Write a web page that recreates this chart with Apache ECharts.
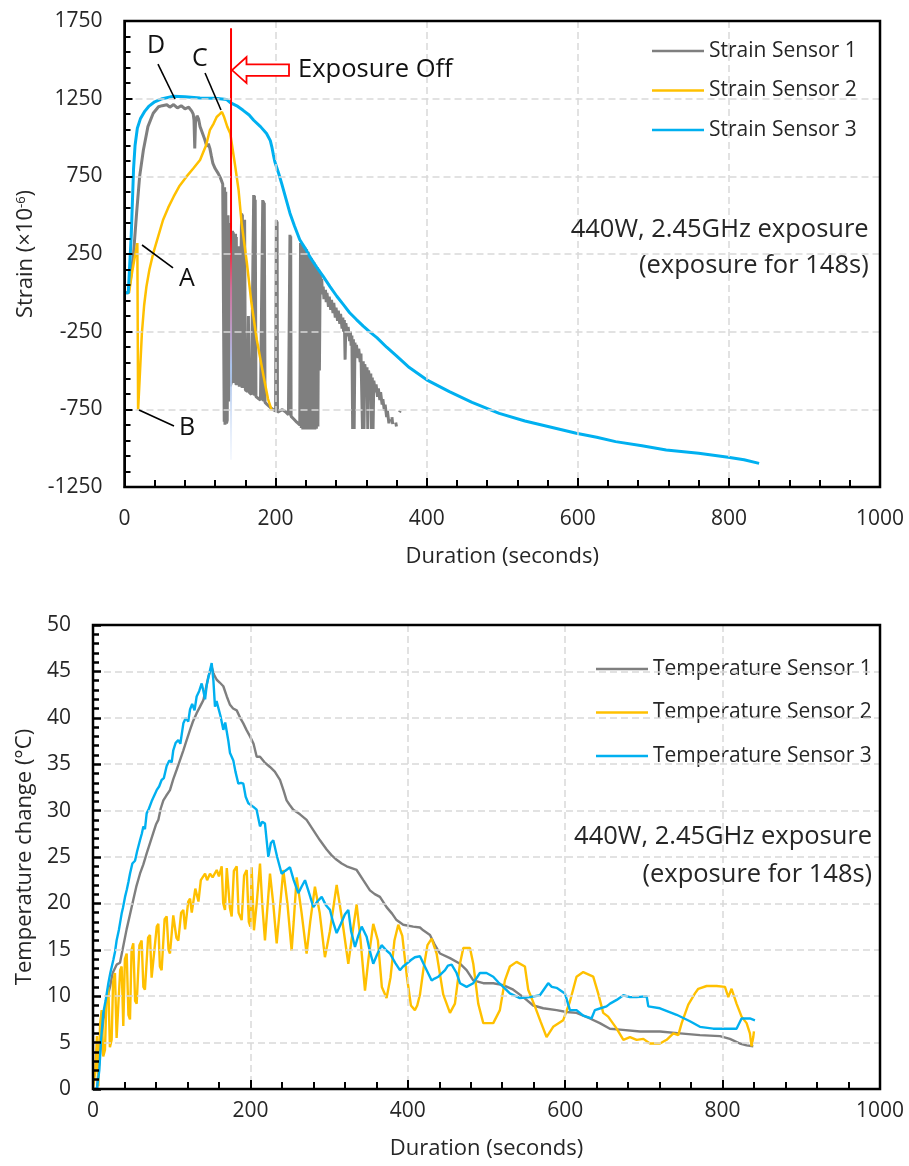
<!DOCTYPE html>
<html>
<head>
<meta charset="utf-8">
<script src="https://cdn.jsdelivr.net/npm/echarts@6/dist/echarts.min.js"></script>
<style>html,body{margin:0;padding:0;background:#fff}#c{width:909px;height:1166px}</style>
</head>
<body>
<div id="c"></div>
<script>
// ---------------- DATA ----------------
const strainSeriesNames = ['Strain Sensor 1', 'Strain Sensor 2', 'Strain Sensor 3'];
const tempSeriesNames = ['Temperature Sensor 1', 'Temperature Sensor 2', 'Temperature Sensor 3'];

const strainSensor1 = [
  [0,0],[5,0],[8,90],[12,254],[16,512],[20,748],[25,920],[31,1070],[38,1156],[45,1198],[50,1205],[56,1211],[60,1195],[65,1212],[70,1190],[75,1205],[80,1185],[85,1195],[89,1170],[91,1150],[92,1110],[93,930],[94,1100],[96,1140],[98,1120],[100,1070],[103,1030],[106,990],[109,941],[111,960],[113,930],[115,880],[117,833],[120,800],[124,769],[127,740],[130,700],
  [131,690],[132,-830],[132.5,680],[133,-850],[134,650],[135,-840],[136,-820],[137,500],[138,-700],[139,450],[140,-600],[142,-570],[143,400],[143.6,-575],[144,390],[144.5,-580],[146,-590],[147,380],[147.6,-592],[148,360],[148.5,-595],[150,-600],[151,300],[152,-605],[154,-610],[155,512],[155.6,-611],[156,505],[156.5,-612],[158,-618],[159,470],[160,-625],[163,-635],[164,-150],[165,-640],[167,-648],[168,-655],[170,-660],[171,630],[171.6,-660],[172,625],[172.5,-662],[173,600],[174,-668],[177,-680],[180,-690],[182,-695],[183,598],[183.6,-697],[184,590],[184.5,-700],[185,580],[186,-705],[189,-720],[193,-738],[197,-752],[200,-760],[201,469],[201.6,-764],[202,460],[202.5,-768],[205,-762],[209,-752],[213,-765],[217,-785],[219,374],[219.6,-790],[220,365],[220.5,-795],[224,-812],[228,-833],[232,-850],
  [233,320],[234,-870],[235,310],[236,-880],[237,300],[238,-880],[239,290],[240,-880],[241,280],[242,-880],[243,265],[244,-880],[245,240],[246,-880],[247,225],[248,-880],[249,210],[250,-880],[251,195],[252,-880],[253,180],[254,-875],[255,165],[256,-860],[257,150],[258,-500],
  [259,130],[260,40],[261,90],[262,-10],[263,40],[264,-40],[266,20],[267,-60],[268,0],[270,-90],[271,-25],[273,-110],[274,-45],[276,-130],[277,-65],[279,-160],[280,-95],[282,-180],[283,-115],[285,-200],[286,-135],[288,-230],[289,-160],[290,-250],[291,-175],[292,-430],[293,-195],[295,-280],[296,-220],[298,-310],[299,-250],[300,-340],[301,-275],[302,-876],[303,-299],[304,-876],[305,-320],[306,-400],[307,-335],[309,-420],[310,-360],[312,-445],[313,-390],[315,-876],[316,-440],[317,-876],[318,-460],[320,-540],[321,-480],[322,-876],[323,-500],[325,-580],[326,-520],[327,-876],[328,-545],[329,-876],[330,-565],[332,-640],[333,-590],[335,-670],[336,-615],[338,-690],[339,-640],[341,-720],[342,-684],[344,-760],[345,-720],[347,-800],[348,-760],[350,-840],[351,-812],
  [352,'-'],[354,-800],[355,-845],[356,'-'],[359,-835],[360,-860],[362,'-'],[364,-770],[365,-760]
];
const strainSensor2 = [
  [0,0],[6,0],[10,130],[14,240],[17,320],[18,-755],[20,-560],[23,-261],[26,-80],[29,39],[33,150],[38,254],[45,370],[51,469],[58,550],[65,619],[73,690],[82,748],[91,800],[100,855],[108,950],[113,1047],[118,1090],[122,1132],[126,1150],[129,1164],[132,1130],[136,1070],[140,1026],[143,930],[146,833],[151,662],[155,449],[162,192],[168,-64],[175,-299],[184,-535],[190,-684],[195,-759]
];
const strainSensor3 = [
  [0,0],[5,0],[9,380],[12,800],[14,950],[17,1060],[21,1120],[27,1170],[32,1200],[40,1230],[50,1250],[65,1265],[80,1262],[100,1255],[120,1252],[135,1245],[140,1225],[150,1200],[157,1175],[165,1145],[171,1111],[180,1070],[188,1026],[193,980],[195,940],[197,890],[199,844],[204,770],[208,705],[214,600],[219,513],[225,430],[232,342],[240,280],[245,235],[255,160],[263,106],[272,40],[281,-22],[290,-78],[298,-128],[307,-172],[316,-214],[325,-253],[334,-288],[347,-350],[360,-406],[377,-481],[400,-560],[430,-636],[460,-705],[496,-776],[530,-825],[562,-862],[598,-904],[625,-930],[650,-958],[685,-985],[717,-1012],[760,-1033],[799,-1059],[820,-1075],[840,-1098]
];
const exposureOffLine = [[141,1703],[141,-1075]];

const tempSensor1 = [
  [0,0],[5,0],[8,3],[13.1,7.4],[18,9.8],[21.6,11],[25,12.5],[30,13.4],[34.3,13.6],[38,15.2],[42.7,17.2],[47,18.8],[51.2,20.4],[55,21.8],[59.7,23.2],[64,24.2],[68.2,25.4],[72,26.4],[76.6,27.6],[80,28.5],[83,29.0],[86,30.2],[89.4,31.1],[93,31.6],[97.8,32.2],[102,33.4],[106.3,34.4],[110,35.3],[114.8,36.5],[119,37.6],[123.3,38.7],[127,39.6],[131.7,40.5],[136,41.2],[140.2,41.9],[143,43.0],[146.5,44.4],[150.8,45.5],[154,44.6],[157.2,44.1],[161,43.8],[165.6,43.4],[170,42.3],[174.1,41.4],[178,41.0],[182.6,40.8],[187,40.0],[191,39.4],[195,38.7],[199.5,38.0],[204,37.2],[208,35.8],[212.2,35.8],[218,35.2],[224.9,34.7],[231,34.2],[237.6,33.3],[242,32.2],[246,31.1],[250,30.6],[254.5,30.1],[263,29.6],[271.4,29.0],[279.9,27.9],[288.4,26.8],[296.9,25.8],[303,25.2],[309.6,24.7],[316,24.3],[322.3,24.0],[335,23.6],[343.4,22.5],[351.9,21.4],[358,21.0],[364.6,20.7],[373,19.6],[380,18.9],[385.7,18.2],[394.2,17.7],[406.9,17.5],[415.5,17.4],[419.6,17.1],[428.2,16.6],[434,15.6],[440.9,14.6],[453.6,14.1],[466.3,13.5],[474.7,12.8],[483.2,11.7],[495.9,11.4],[508.6,11.4],[521.3,11.2],[534,10.7],[546.7,9.9],[559.4,9.0],[572.1,8.7],[589,8.5],[601.7,8.3],[614.4,8.2],[631.4,7.6],[644,7.1],[656.8,6.5],[669.7,6.4],[695.1,6.2],[720.4,6.2],[745.8,6.0],[771.2,5.8],[796.6,5.7],[809.3,5.4],[822,4.9],[830.5,4.7],[839,4.6]
];
const tempSensor2 = [
  [0,0],[3,2],[5,5.7],[6.8,0.3],[9,7],[11,8.5],[13,3.5],[15.2,4.2],[17,9.5],[19.5,11],[21.5,4.5],[23.7,5.3],[25.5,11.5],[27.9,12.5],[30,5.5],[32.2,5.6],[34.5,12.8],[36.4,13.2],[38.5,6.8],[40.5,14],[42.8,14.6],[45,8],[47,7.5],[49,15],[51.2,15.7],[53.5,9.5],[55.5,9.2],[59,15.5],[61.8,16.0],[64,11],[66,10.7],[70,16.3],[72.4,16.6],[74.5,12],[76.6,11.8],[81,17.5],[83,17.8],[85,13.2],[87.2,12.8],[91,18.3],[93.6,18.6],[96,15],[97.8,14.6],[102,18.7],[104.2,18.9],[106,16.3],[108.4,16.0],[112,19],[114.8,19.3],[117,17.2],[119,17.1],[121,20.2],[123.3,20.5],[125.5,19],[127.5,18.8],[130,21.6],[131.7,21.8],[134,20.2],[137,22.5],[142.4,23.2],[145,22.5],[148.7,23.2],[152,22.8],[157.2,23.6],[160,22.9],[163.5,24.0],[165.5,20],[167.7,19.3],[170,23.8],[172,23.6],[174,19.5],[176.2,18.6],[179,23.5],[182.6,24.0],[185,19],[188.9,18.2],[192,23],[195.3,23.6],[198,18],[200,17.5],[201.6,23.9],[204.5,17.1],[208,20],[212.2,24.3],[215,20],[218.5,16.0],[222,20],[224.9,23.2],[229,20],[233.4,15.7],[237,19],[241.8,23.6],[247,20],[252.4,14.9],[255,18],[258.8,22.8],[265,19],[271.4,14.6],[276,18],[282,21.8],[288,19],[294.7,14.2],[301,17],[309.6,22.0],[317,18],[324.4,13.5],[330,17],[335,19.9],[340,16],[345.6,10.6],[350,14],[356.1,17.8],[362,16],[367,11],[373,9.8],[378,12],[383,16],[387.9,17.7],[393,16.5],[399,12],[404,9],[409,8.5],[412,9],[415.5,10.2],[420,13],[425,15.5],[430.3,16.2],[436.6,14.6],[445,10.2],[453.6,8.2],[459.9,9.2],[466.3,13.5],[470.5,15.2],[479,15.2],[483.2,13.5],[489.5,9.2],[495.9,7.1],[508.6,7.1],[517,8.5],[523.4,11.7],[529.7,13.2],[538.2,13.7],[548.8,13.2],[553,10.7],[561.5,8.9],[569,7.2],[576.3,5.6],[584.7,6.7],[597.4,7.4],[605.9,9.4],[614.4,12.1],[622.9,12.6],[635.6,12.1],[641.9,10.3],[648.3,8.2],[654.6,7.8],[657,7.8],[665.4,6.5],[673.9,5.3],[682.3,5.6],[690.8,5.3],[699.3,5.4],[707.7,4.9],[720.4,4.9],[728.9,5.3],[737.4,6.0],[743.7,5.8],[748,7.1],[756.4,9.1],[764.9,10.3],[769.1,10.8],[779.7,11.1],[792.4,11.1],[803,11.0],[807.2,9.9],[811.4,10.8],[817.7,9.2],[824.1,7.8],[830.5,7.1],[834.7,6.0],[836.8,4.6],[839,5.6],[839.8,6.2]
];
const tempSensor3 = [
  [0,0],[5,0],[8,2],[10,5],[13,8.2],[16,9.5],[19.5,11.4],[22,12.5],[25.8,13.9],[28,14.8],[30,16],[33,17.2],[36.4,18.9],[38,19.5],[40.7,20.7],[43,21.5],[45,22.3],[47,23.2],[50,24.3],[53.4,24.6],[56,25.6],[59.7,26.8],[62,27.5],[64,28.3],[66,28.0],[68.2,29.7],[71,30.2],[74.5,31.0],[77,30.8],[80.9,32.2],[84,32.6],[87.2,33.3],[90,33.5],[93.6,34.8],[97,35.4],[100,35.2],[102,36.5],[105,37.3],[108.4,37.6],[111,37.2],[114.8,39.4],[118,40.0],[121,39.6],[123.3,40.9],[126,41.5],[129,40.8],[131.7,42.3],[135,42.9],[138.1,43.7],[140,43.0],[142.4,42.0],[144.5,43.5],[147,44.5],[150.8,45.9],[153,44.0],[155,41.2],[157,41.8],[159.3,41.6],[162,40.2],[165.6,38.7],[168,39.5],[169.9,39.4],[172,37.5],[174.1,36.2],[178.3,35.4],[181,34.2],[184.7,32.9],[188,33.0],[191,32.9],[194,31.5],[197.4,30.8],[199.5,30.8],[203.8,30.4],[207.9,30.1],[212.2,28.3],[215,28.8],[218.5,28.6],[222.8,25.0],[226,26.5],[229.1,26.8],[234,25.0],[239.7,23.2],[244,23.5],[250.3,23.9],[255,22.5],[260.9,21.1],[265,21.8],[269.4,22.5],[275,21.0],[280,19.6],[285,20.2],[290.6,20.7],[296,19.8],[301.1,19.3],[305,18.0],[309.6,16.8],[315,17.8],[320,18.8],[324.4,19.3],[328,17.0],[332.9,15.3],[337,16.5],[341.4,17.5],[347.7,16.4],[352,14.8],[356.1,13.5],[361,14.5],[366.7,15.5],[372,15.0],[377.3,14.6],[384,13.6],[390,12.8],[394,13.2],[398.4,13.5],[404,13.9],[409,14.2],[415.5,14.3],[420,13.5],[424,12.8],[430.3,11.7],[434,11.9],[438.8,12.1],[447.3,12.8],[451,13.3],[455.7,13.4],[462,12.5],[466.3,11.4],[474.7,11.0],[483.2,11.4],[491.6,12.5],[500,12.5],[508.6,12.1],[515,11.5],[521.3,11.0],[529.7,10.3],[542.4,9.8],[555.1,9.9],[567.8,10.1],[578.4,11.4],[583,11.0],[589,10.9],[599.6,10.3],[606,8.5],[614.4,8.5],[622.9,7.9],[633.4,7.6],[637.7,8.5],[645,8.7],[652.5,8.9],[657,9.2],[665.4,9.6],[673.9,10.1],[682.3,9.9],[690.8,9.9],[703.5,10.0],[705.6,8.9],[720.4,8.7],[741.6,8.0],[758.5,7.3],[771.2,6.7],[788.1,6.5],[805,6.5],[817.7,6.5],[824.1,7.6],[834.7,7.6],[841.1,7.4]
];

// axis ranges / ticks
const durationAxis = {min: 0, max: 1000, interval: 200};
const strainAxis = {min: -1250, max: 1750, interval: 500};
const tempAxis = {min: 0, max: 50, interval: 5};

// annotation texts and anchors (data coordinates)
const noteLines = ['440W, 2.45GHz exposure', '(exposure for 148s)'];
const strainNoteAnchors = [[985, 404], [985, 173]];
const tempNoteAnchors = [[990, 27.2], [990, 23.1]];
const letterLabels = [['D', [41.7, 1589]], ['C', [99.9, 1505]], ['A', [82.7, 89]], ['B', [82.7, -870]]];
const leaderLines = [[[44.3, 1473], [66.8, 1248]], [[106.6, 1415], [127.7, 1177]], [[23.2, 308], [64.2, 160]], [[19.2, -754], [65.5, -857]]];
const exposureOffText = 'Exposure Off';
const exposureArrowTip = [142.3, 1434];
const exposureTextAnchor = [229.7, 1434];

// ---------------- STYLE ----------------
const FONT = 'Open Sans';
const TXT = '#262626';
const COLORS = ['#7F7F7F', '#FFC000', '#00B0F0'];
const gridLine = {show: true, showMinLine: false, showMaxLine: false, lineStyle: {color: '#D9D9D9', width: 1.5, type: [7, 4]}};
const plain = v => String(v);

function xAxisCfg(gridIndex, labelMargin, nameGap) {
  return {
    type: 'value', gridIndex, min: durationAxis.min, max: durationAxis.max, interval: durationAxis.interval,
    name: 'Duration (seconds)', nameLocation: 'middle', nameGap,
    nameTextStyle: {fontFamily: FONT, fontSize: 22, color: TXT},
    axisLine: {show: true, onZero: false, lineStyle: {color: '#000', width: 2}},
    axisTick: {show: true, inside: true, length: 9, lineStyle: {color: '#000', width: 2}},
    minorTick: {show: true, splitNumber: 5, length: 7, lineStyle: {color: '#000', width: 2}},
    axisLabel: {fontFamily: FONT, fontSize: 21, color: TXT, margin: labelMargin, formatter: plain},
    splitLine: gridLine, z: 10
  };
}

const option = {
  animation: false,
  backgroundColor: '#fff',
  grid: [
    {left: 124.5, top: 21, right: 29, height: 466},
    {left: 93, top: 625, right: 29, height: 464}
  ],
  xAxis: [xAxisCfg(0, 22, 59), xAxisCfg(1, 12, 49)],
  yAxis: [
    {
      type: 'value', gridIndex: 0, min: strainAxis.min, max: strainAxis.max, interval: strainAxis.interval,
      name: '{n|Strain (×10}{s|-6}{n|)}', nameLocation: 'middle', nameGap: 84,
      nameTextStyle: {fontFamily: FONT, fontSize: 22, color: TXT,
        rich: {n: {fontFamily: FONT, fontSize: 22, color: TXT}, s: {fontFamily: FONT, fontSize: 13, color: TXT, verticalAlign: 'top', padding: [0, 0, 10, 0]}}},
      axisLine: {show: true, onZero: false, lineStyle: {color: '#000', width: 2}},
      axisTick: {show: true, inside: true, length: 8, lineStyle: {color: '#000', width: 2}},
      minorTick: {show: true, splitNumber: 5, length: 6, lineStyle: {color: '#000', width: 2}},
      axisLabel: {fontFamily: FONT, fontSize: 21, color: TXT, margin: 22, formatter: plain},
      splitLine: gridLine, z: 10
    },
    {
      type: 'value', gridIndex: 1, min: tempAxis.min, max: tempAxis.max, interval: tempAxis.interval,
      name: 'Temperature change (°C)', nameLocation: 'middle', nameGap: 56,
      nameTextStyle: {fontFamily: FONT, fontSize: 22, color: TXT},
      axisLine: {show: true, onZero: false, lineStyle: {color: '#000', width: 2}},
      axisTick: {show: true, inside: true, length: 8, lineStyle: {color: '#000', width: 2.5}},
      minorTick: {show: true, splitNumber: 5, length: 6, lineStyle: {color: '#000', width: 2.5}},
      axisLabel: {fontFamily: FONT, fontSize: 21, color: TXT, margin: 22, formatter: plain},
      splitLine: gridLine, z: 10
    }
  ],
  legend: [
    {data: strainSeriesNames, orient: 'vertical', left: 647, top: 34, itemWidth: 52, itemHeight: 2.5, icon: 'rect', itemGap: 15.5,
      textStyle: {fontFamily: FONT, fontSize: 21, color: TXT, lineHeight: 24}},
    {data: tempSeriesNames, orient: 'vertical', left: 591, top: 652, itemWidth: 52, itemHeight: 2.5, icon: 'rect', itemGap: 19.5,
      textStyle: {fontFamily: FONT, fontSize: 21, color: TXT, lineHeight: 24}}
  ],
  series: [
    {name: strainSeriesNames[0], type: 'line', xAxisIndex: 0, yAxisIndex: 0, data: strainSensor1, symbol: 'none', color: COLORS[0], lineStyle: {width: 3, color: COLORS[0]}, connectNulls: false, z: 2},
    {name: strainSeriesNames[1], type: 'line', xAxisIndex: 0, yAxisIndex: 0, data: strainSensor2, symbol: 'none', color: COLORS[1], lineStyle: {width: 2.5, color: COLORS[1]}, z: 3},
    {name: strainSeriesNames[2], type: 'line', xAxisIndex: 0, yAxisIndex: 0, data: strainSensor3, symbol: 'none', color: COLORS[2], lineStyle: {width: 3, color: COLORS[2]}, z: 4},
    {name: 'Exposure Off', type: 'line', xAxisIndex: 0, yAxisIndex: 0, data: exposureOffLine, symbol: 'none', silent: true, z: 5,
      lineStyle: {width: 2, color: new echarts.graphic.LinearGradient(0, 0, 0, 1, [
        {offset: 0, color: '#FF0000'}, {offset: 0.46, color: '#FF0000'}, {offset: 0.6, color: '#D0709A'},
        {offset: 0.78, color: '#A9C3EC'}, {offset: 1, color: 'rgba(210,225,250,0.2)'}])}},
    {name: tempSeriesNames[0], type: 'line', xAxisIndex: 1, yAxisIndex: 1, data: tempSensor1, symbol: 'none', color: COLORS[0], lineStyle: {width: 2.4, color: COLORS[0]}, z: 2},
    {name: tempSeriesNames[1], type: 'line', xAxisIndex: 1, yAxisIndex: 1, data: tempSensor2, symbol: 'none', color: COLORS[1], lineStyle: {width: 2.4, color: COLORS[1]}, z: 3},
    {name: tempSeriesNames[2], type: 'line', xAxisIndex: 1, yAxisIndex: 1, data: tempSensor3, symbol: 'none', color: COLORS[2], lineStyle: {width: 2.4, color: COLORS[2]}, z: 4}
  ]
};

const chart = echarts.init(document.getElementById('c'), null, {renderer: 'canvas'});
chart.setOption(option);

// ---------------- ANNOTATIONS ----------------
const P0 = p => chart.convertToPixel({gridIndex: 0}, p);
const P1 = p => chart.convertToPixel({gridIndex: 1}, p);
const g = [];
// plot frames (black box around each plot area)
[[P0, strainAxis], [P1, tempAxis]].forEach(([P, ax]) => {
  const tl = P([durationAxis.min, ax.max]), br = P([durationAxis.max, ax.min]);
  g.push({type: 'rect', z: 30, silent: true, shape: {x: tl[0], y: tl[1], width: br[0] - tl[0], height: br[1] - tl[1]},
    style: {fill: null, stroke: '#000000', lineWidth: 2.5}});
});
noteLines.forEach((t, i) => {
  const a = P0(strainNoteAnchors[i]);
  g.push({type: 'text', x: a[0], y: a[1], z: 20, style: {text: t, fontFamily: FONT, fontSize: 25.5, fill: TXT, align: 'right', verticalAlign: 'middle'}});
  const b = P1(tempNoteAnchors[i]);
  g.push({type: 'text', x: b[0], y: b[1], z: 20, style: {text: t, fontFamily: FONT, fontSize: 25.5, fill: TXT, align: 'right', verticalAlign: 'middle'}});
});
letterLabels.forEach(([t, p]) => {
  const a = P0(p);
  g.push({type: 'text', x: a[0], y: a[1], z: 20, style: {text: t, fontFamily: FONT, fontSize: 25, fill: '#111', align: 'center', verticalAlign: 'middle'}});
});
leaderLines.forEach(([p, q]) => {
  const a = P0(p), b = P0(q);
  g.push({type: 'line', z: 20, shape: {x1: a[0], y1: a[1], x2: b[0], y2: b[1]}, style: {stroke: '#000', lineWidth: 1.6}});
});
const tip = P0(exposureArrowTip);
g.push({type: 'polygon', x: tip[0], y: tip[1], z: 21,
  shape: {points: [[0, 0], [14.5, -13], [14.5, -5.8], [57, -5.8], [57, 5.8], [14.5, 5.8], [14.5, 13]]},
  style: {fill: '#fff', stroke: '#FF0000', lineWidth: 1.8}});
const et = P0(exposureTextAnchor);
g.push({type: 'text', x: et[0], y: et[1], z: 21, style: {text: exposureOffText, fontFamily: FONT, fontSize: 25.5, fill: '#111', align: 'left', verticalAlign: 'middle'}});
chart.setOption({graphic: g});
</script>
</body>
</html>
